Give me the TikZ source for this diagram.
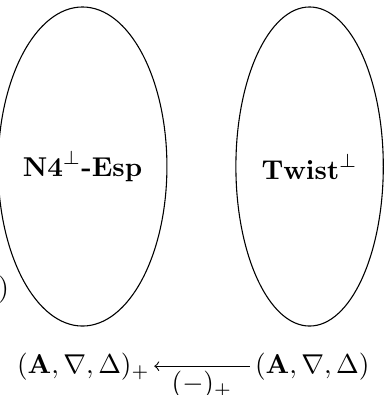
\documentclass[tikz,border=0pt]{standalone}
\usepackage{amsmath}
\usetikzlibrary{shapes.geometric}
\begin{document}
\begin{tikzpicture}[x=0.367pt,y=-0.367pt,
  blob/.style={draw, ellipse, line width=0.4pt, minimum width=54.1pt, minimum height=117.1pt, inner sep=0pt},
  lbl/.style={inner sep=0pt}]
\useasboundingbox (0,0) rectangle (384,395);
\node[blob] (n4) at (82.5,166.5) {$\mathbf{N4}^{\perp}\textbf{-Esp}$};
\node[blob] (tw) at (309.6,166.5) {$\mathbf{Twist}^{\perp}$};
\node[lbl, anchor=base west] (L) at (16.5,373) {$(\mathbf{A},\nabla,\Delta)_+$};
\node[lbl, anchor=base west] (R) at (254.5,373) {$(\mathbf{A},\nabla,\Delta)$};
\node[lbl, anchor=base east] (p) at (9.5,296) {$)$};
\draw[->] ([xshift=-1.8pt,yshift=2.5pt]R.base west) -- node[below, inner sep=1.6pt] (f) {$(-)_+$} ([xshift=1.5pt,yshift=2.5pt]L.base east);
\end{tikzpicture}
\end{document}
